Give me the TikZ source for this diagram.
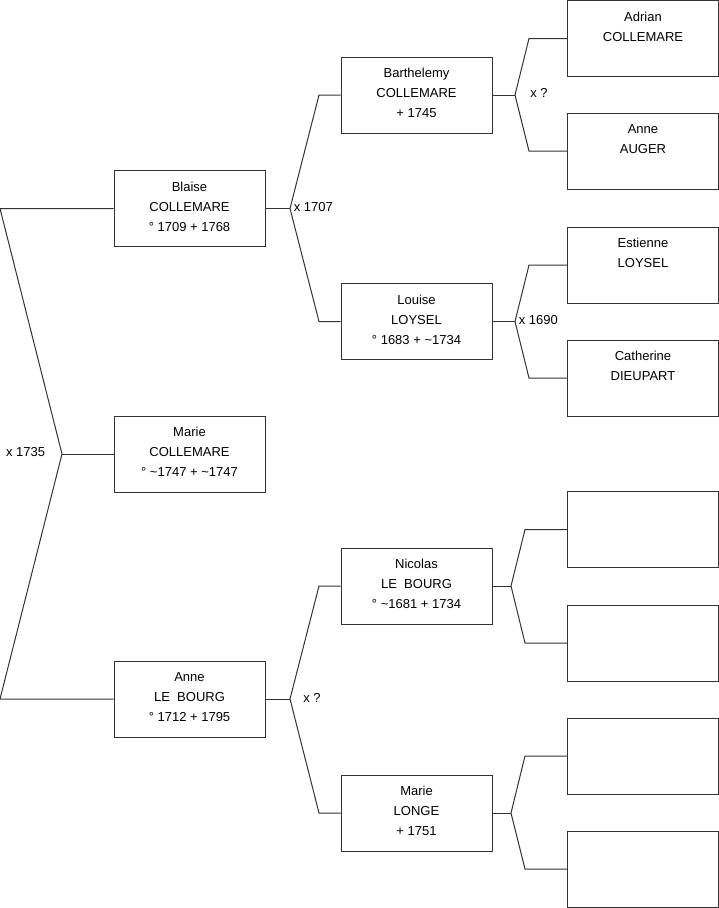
\documentclass[tikz,border=0pt]{standalone}
\usepackage{fontspec}
\setmainfont{Liberation Sans}

\begin{document}
\begin{tikzpicture}[x=1pt,y=-1pt,line width=1pt,
  every node/.style={font=\fontsize{13}{20}\selectfont},
  person/.style={draw=black!80,minimum width=151pt,minimum height=76pt,inner sep=0pt,
    label={[align=center,yshift=2pt]center:#1}},
  person/.default={},
  link/.style={draw=black!80}]
\useasboundingbox (0,0) rectangle (719,908);
% generation 1
\node[person={Blaise\\COLLEMARE\\° 1709 + 1768}] (blaise) at (189.5,208.5) {};
\node[person={Marie\\COLLEMARE\\° \textasciitilde1747 + \textasciitilde1747}] (marie) at (189.5,454) {};
\node[person={Anne\\LE\ \ BOURG\\° 1712 + 1795}] (anne) at (189.5,699) {};
% generation 2
\node[person={Barthelemy\\COLLEMARE\\+ 1745}] (barth) at (416.5,95) {};
\node[person={Louise\\LOYSEL\\° 1683 + \textasciitilde1734}] (louise) at (416.5,321.5) {};
\node[person={Nicolas\\LE\ \ BOURG\\° \textasciitilde1681 + 1734}] (nicolas) at (416.5,586) {};
\node[person={Marie\\LONGE\\+ 1751}] (longe) at (416.5,813) {};
% generation 3
\node[person={Adrian\\COLLEMARE\\~}] (adrian) at (643,38.5) {};
\node[person={Anne\\AUGER\\~}] (auger) at (643,151) {};
\node[person={Estienne\\LOYSEL\\~}] (estienne) at (643,265) {};
\node[person={Catherine\\DIEUPART\\~}] (catherine) at (643,378) {};
\node[person] (empA) at (643,529.5) {};
\node[person] (empB) at (643,643) {};
\node[person] (empC) at (643,756) {};
\node[person] (empD) at (643,869) {};
% left bracket
\coordinate (lt) at (0,208.5);
\coordinate (lm) at (62,454);
\coordinate (lb) at (0,699);
\draw[link] (blaise.west) -- (lt) -- (lm) -- (lb) -- (anne.west);
\draw[link] (lm) -- (marie.west);
\node[anchor=east] at (49,452) {x 1735};
% blaise
\coordinate (ba) at (290,208.5);
\draw[link] (blaise.east) -- (ba);
\draw[link] (barth.west) -- (319,95) -- (ba) -- (319,321.5) -- (louise.west);
\node[anchor=west] at (290,207) {x 1707};
% anne
\coordinate (aa) at (290,699);
\draw[link] (anne.east) -- (aa);
\draw[link] (nicolas.west) -- (319,586) -- (aa) -- (319,813) -- (longe.west);
\node at (312,698) {x ?};
% barthelemy
\coordinate (bta) at (515,95);
\draw[link] (barth.east) -- (bta);
\draw[link] (adrian.west) -- (529,38.5) -- (bta) -- (529,151) -- (auger.west);
\node at (539,93) {x ?};
% louise
\coordinate (loa) at (515,321.5);
\draw[link] (louise.east) -- (loa);
\draw[link] (estienne.west) -- (529,265) -- (loa) -- (529,378) -- (catherine.west);
\node[anchor=west] at (515,320) {x 1690};
% nicolas
\coordinate (nia) at (511,586);
\draw[link] (nicolas.east) -- (nia);
\draw[link] (empA.west) -- (525,529.5) -- (nia) -- (525,643) -- (empB.west);
% marie longe
\coordinate (mla) at (511,813);
\draw[link] (longe.east) -- (mla);
\draw[link] (empC.west) -- (525,756) -- (mla) -- (525,869) -- (empD.west);
\end{tikzpicture}
\end{document}
